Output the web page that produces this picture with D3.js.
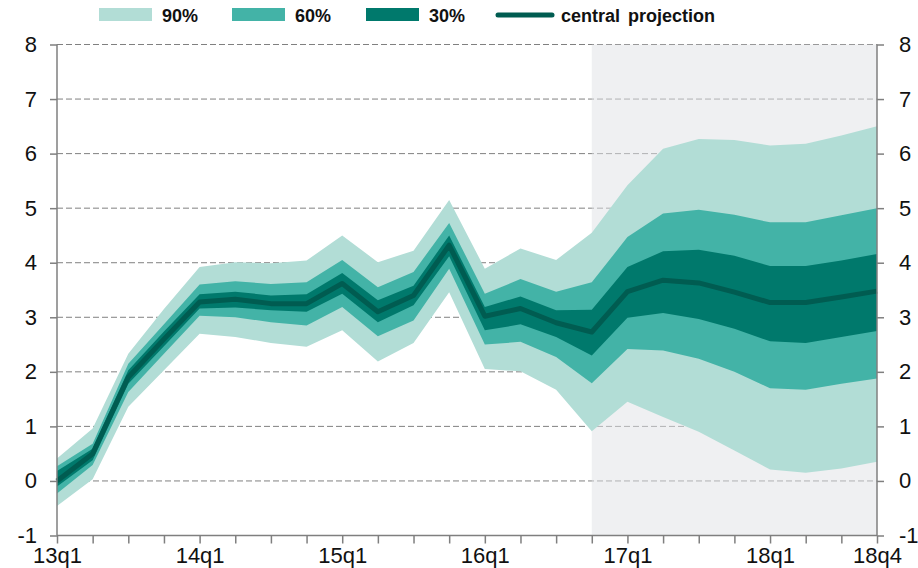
<!DOCTYPE html>
<html>
<head>
<meta charset="utf-8">
<script src="https://cdn.jsdelivr.net/npm/d3@7"></script>
<style>
  body { margin: 0; background: #fff; }
  text { font-family: "Liberation Sans", Arial, sans-serif; fill: #111; }
</style>
</head>
<body>
<svg id="chart" width="918" height="568"></svg>
<script>
// Quarters 13q1 .. 18q4
var quarters = [];
for (var yr = 13; yr <= 18; yr++) for (var q = 1; q <= 4; q++) quarters.push(yr + "q" + q);
var tickLabels = ["13q1", "14q1", "15q1", "16q1", "17q1", "18q1", "18q4"];
var yTicks = [-1, 0, 1, 2, 3, 4, 5, 6, 7, 8];

// Fan chart values
var central = [0.0, 0.5, 1.9, 2.6, 3.28, 3.33, 3.25, 3.25, 3.62, 3.1, 3.4, 4.32, 3.02, 3.16, 2.9, 2.73, 3.47, 3.68, 3.63, 3.46, 3.27, 3.27, 3.37, 3.48];
var top90 = [0.41, 0.96, 2.33, 3.15, 3.92, 4.01, 3.99, 4.04, 4.5, 4.01, 4.22, 5.15, 3.89, 4.26, 4.05, 4.55, 5.42, 6.09, 6.27, 6.25, 6.15, 6.18, 6.33, 6.5];
var top60 = [0.27, 0.68, 2.15, 2.87, 3.6, 3.66, 3.61, 3.64, 4.05, 3.55, 3.83, 4.73, 3.43, 3.7, 3.47, 3.64, 4.47, 4.9, 4.97, 4.88, 4.74, 4.74, 4.87, 5.0];
var top30 = [0.18, 0.59, 2.03, 2.74, 3.42, 3.47, 3.4, 3.42, 3.81, 3.31, 3.58, 4.5, 3.19, 3.38, 3.13, 3.14, 3.92, 4.21, 4.24, 4.13, 3.94, 3.94, 4.04, 4.16];
var bot30 = [-0.1, 0.38, 1.78, 2.47, 3.16, 3.18, 3.13, 3.1, 3.43, 2.91, 3.22, 4.12, 2.76, 2.87, 2.64, 2.3, 2.99, 3.08, 2.97, 2.79, 2.56, 2.53, 2.64, 2.75];
var bot60 = [-0.23, 0.29, 1.63, 2.33, 3.03, 3.0, 2.91, 2.85, 3.19, 2.65, 2.94, 3.89, 2.5, 2.55, 2.27, 1.79, 2.42, 2.39, 2.24, 2.0, 1.7, 1.67, 1.78, 1.88];
var bot90 = [-0.46, 0.03, 1.36, 2.03, 2.7, 2.64, 2.53, 2.46, 2.76, 2.19, 2.53, 3.46, 2.05, 2.01, 1.67, 0.91, 1.45, 1.17, 0.9, 0.56, 0.21, 0.15, 0.23, 0.35];

var bandNames = ["90%", "60%", "30%"];
var bandColors = ["#b2ddd6", "#43b3a7", "#00796c"];
var lineColor = "#005c51";
var projStart = "16q4";

var svg = d3.select("#chart");

var x = d3.scalePoint().domain(quarters).range([57, 877]);
var y = d3.scaleLinear().domain([-1, 8]).range([535.5, 44.5]);

// Dashed gridlines
svg.append("g").selectAll("line")
  .data(yTicks.filter(d => d > -1))
  .enter().append("line")
    .attr("x1", 57).attr("x2", 877)
    .attr("y1", d => y(d)).attr("y2", d => y(d))
    .attr("stroke", "#808080")
    .attr("stroke-width", 1)
    .attr("stroke-dasharray", "6,3");

// Projection shading
svg.append("rect")
  .attr("x", x(projStart))
  .attr("y", y(8))
  .attr("width", x("18q4") - x(projStart))
  .attr("height", y(-1) - y(8))
  .attr("fill", "#dfe2e6")
  .attr("opacity", 0.5);

// Bands
var bands = [[top90, bot90], [top60, bot60], [top30, bot30]];
var area = d3.area()
  .x((d, i) => x(quarters[i]))
  .y0(d => y(d[1]))
  .y1(d => y(d[0]));

bands.forEach(function(b, k) {
  var pts = b[0].map((v, i) => [v, b[1][i]]);
  svg.append("path")
    .datum(pts)
    .attr("d", area)
    .attr("fill", bandColors[k]);
});

// Central projection
var line = d3.line()
  .x((d, i) => x(quarters[i]))
  .y(d => y(d));

svg.append("path")
  .datum(central)
  .attr("d", line)
  .attr("fill", "none")
  .attr("stroke", lineColor)
  .attr("stroke-width", 5)
  .attr("stroke-linejoin", "round");

// Axes
var axisColor = "#7f7f7f";
var yLeft = svg.append("g")
  .attr("transform", "translate(57,0)")
  .call(d3.axisLeft(y).tickValues(yTicks).tickSize(7).tickPadding(13).tickFormat(d => String(d)));
var yRight = svg.append("g")
  .attr("transform", "translate(877,0)")
  .call(d3.axisRight(y).tickValues(yTicks).tickSize(7).tickPadding(15).tickFormat(d => String(d)));
var xAxis = svg.append("g")
  .attr("transform", "translate(0," + y(-1) + ")")
  .call(d3.axisBottom(x).tickSize(8).tickPadding(4).tickFormat(d => tickLabels.indexOf(d) >= 0 ? d : ""));

[yLeft, yRight, xAxis].forEach(function(g) {
  g.select(".domain").attr("stroke", axisColor).attr("stroke-width", 1.5);
  g.selectAll(".tick line").attr("stroke", axisColor).attr("stroke-width", 1.5);
  g.selectAll("text")
    .attr("font-family", "'Liberation Sans', Arial, sans-serif")
    .attr("font-size", 22)
    .attr("fill", "#111");
});
yLeft.select(".domain").attr("d", "M0," + y(8) + "V" + y(-1));
yRight.select(".domain").attr("d", "M0," + y(8) + "V" + y(-1));
xAxis.select(".domain").attr("d", "M57,0H877");

// Legend
var legend = svg.append("g");
var swX = [99, 232, 366];
bandNames.forEach(function(n, k) {
  legend.append("rect")
    .attr("x", swX[k]).attr("y", 8)
    .attr("width", 53).attr("height", 13)
    .attr("fill", bandColors[k]);
  legend.append("text")
    .attr("x", swX[k] + 63).attr("y", 22)
    .attr("font-size", 18).attr("font-weight", "bold")
    .text(n);
});
legend.append("line")
  .attr("x1", 498).attr("x2", 552)
  .attr("y1", 15).attr("y2", 15)
  .attr("stroke", lineColor)
  .attr("stroke-width", 5)
  .attr("stroke-linecap", "round");
legend.append("text")
  .attr("x", 561).attr("y", 22)
  .attr("font-size", 18).attr("font-weight", "bold")
  .attr("word-spacing", 3)
  .text("central projection");
</script>
</body>
</html>
